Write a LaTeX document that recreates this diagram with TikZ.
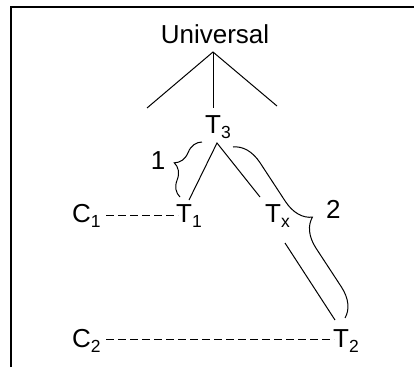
\documentclass[tikz,border=0pt]{standalone}
\usepackage{fontspec}
\setmainfont{Liberation Sans}
\usetikzlibrary{decorations.pathreplacing}
\newcommand{\mysub}[1]{\raisebox{-5pt}{\fontsize{17.5}{18}\selectfont #1}}
\begin{document}
\begin{tikzpicture}[x=1pt,y=-1pt,
  lbl/.style={inner sep=0pt,font=\fontsize{26}{30}\selectfont},
  ln/.style={line width=1pt},
  dashline/.style={line width=1pt,dash pattern=on 8pt off 4pt},
  bracestyle/.style={line width=1pt,decorate,decoration={brace,amplitude=#1}},
  frame/.style={line width=1.6pt}]
\useasboundingbox (0,0) rectangle (414,367);
% frame
\coordinate (fa) at (11,367);
\coordinate (fb) at (11,7);
\coordinate (fc) at (414,7);
\draw[frame] (fa) -- (fb) -- (fc);
% labels
\node[lbl,anchor=base] (U) at (215,43) {Universal};
\node[lbl,anchor=base west] (T3) at (205,133) {T\mysub{3}};
\node[lbl,anchor=base west] (C1) at (72,222) {C\mysub{1}};
\node[lbl,anchor=base west] (T1) at (176,222) {T\mysub{1}};
\node[lbl,anchor=base west] (Tx) at (265,222) {T\mysub{x}};
\node[lbl,anchor=base west] (C2) at (72,347) {C\mysub{2}};
\node[lbl,anchor=base west] (T2) at (333,347) {T\mysub{2}};
\node[lbl,anchor=base] (one) at (158,169) {1};
\node[lbl,anchor=base west] (two) at (326,218) {2};
% tree lines
\coordinate (ua) at (213,52);
\coordinate (ul) at (147,108);
\coordinate (ur) at (277,106);
\coordinate (um) at (213,108);
\draw[ln] (ul) -- (ua) -- (ur);
\draw[ln] (ua) -- (um);
\coordinate (ta) at (217,143);
\coordinate (t1e) at (189,200);
\coordinate (txe) at (260,197);
\draw[ln] (t1e) -- (ta) -- (txe);
\coordinate (xs) at (285,243);
\coordinate (xe) at (335,320);
\draw[ln] (xs) -- (xe);
% dashed lines
\coordinate (d1a) at (106,215);
\coordinate (d1b) at (178,215);
\draw[dashline] (d1a) -- (d1b);
\coordinate (d2a) at (106,339);
\coordinate (d2b) at (334,339);
\draw[dashline] (d2a) -- (d2b);
% braces
\coordinate (b1a) at (180,197);
\coordinate (b1b) at (202,142);
\draw[bracestyle=18pt] (b1a) -- (b1b);
\coordinate (b2a) at (233,147);
\coordinate (b2b) at (345,318);
\draw[bracestyle=28pt] (b2a) -- (b2b);
\end{tikzpicture}
\end{document}
